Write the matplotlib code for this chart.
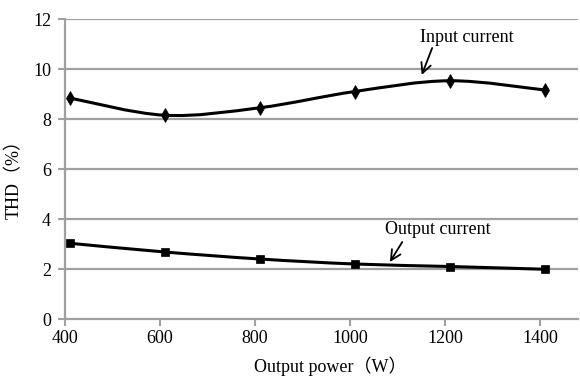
import matplotlib
matplotlib.use("Agg")
import matplotlib.pyplot as plt
from matplotlib.path import Path
from matplotlib.patches import PathPatch
import numpy as np

power = [410, 610, 810, 1010, 1210, 1410]
thd_input = [8.84, 8.15, 8.45, 9.1, 9.53, 9.16]
thd_output = [3.03, 2.68, 2.4, 2.2, 2.1, 1.99]
xticks = [400, 600, 800, 1000, 1200, 1400]
yticks = [0, 2, 4, 6, 8, 10, 12]

plt.rcParams['font.family'] = ['Liberation Serif', 'Noto Sans CJK SC', 'DejaVu Serif']

fig = plt.figure(figsize=(5.8, 3.81), dpi=100)
ax = fig.add_axes([65/580, 1-319/381, (578-65)/580, (319-19)/381])

grid_col = '#a0a0a0'
for y in yticks[1:]:
    ax.axhline(y, color=grid_col, lw=1.6, zorder=1)


def smooth_path(xs, ys):
    pts = np.column_stack([xs, ys]).astype(float)
    n = len(pts)
    verts = [pts[0]]
    codes = [Path.MOVETO]
    for i in range(n - 1):
        p0 = pts[i - 1] if i > 0 else pts[i]
        p1 = pts[i]
        p2 = pts[i + 1]
        p3 = pts[i + 2] if i + 2 < n else pts[i + 1]
        c1 = p1 + (p2 - p0) / 6.0
        c2 = p2 - (p3 - p1) / 6.0
        verts += [c1, c2, p2]
        codes += [Path.CURVE4] * 3
    return Path(verts, codes)


for ys, mk, ms in [(thd_input, 'd', 7.0), (thd_output, 's', 5.5)]:
    patch = PathPatch(smooth_path(power, ys), facecolor='none', edgecolor='black',
                      lw=2.2, zorder=3, capstyle='round', joinstyle='round')
    ax.add_patch(patch)
    ax.plot(power, ys, linestyle='none', marker=mk, ms=ms, mew=0.5,
            color='black', zorder=4)

ax.set_xlim(400, 1480)
ax.set_ylim(0, 12)
ax.set_xticks(xticks)
ax.set_yticks(yticks)
ax.tick_params(axis='x', direction='out', length=5, width=1.5, color=grid_col,
               labelsize=13, pad=3)
ax.tick_params(axis='y', direction='out', length=5, width=1.5, color=grid_col,
               labelsize=13, pad=5)
for s in ['top', 'right']:
    ax.spines[s].set_visible(False)
for s in ['left', 'bottom']:
    ax.spines[s].set_color(grid_col)
    ax.spines[s].set_linewidth(1.6)

ax.set_xlabel('Output power（W）', fontsize=13)
ax.set_ylabel('THD（%）', fontsize=13)
ax.xaxis.set_label_coords(0.517, -0.125)
ax.yaxis.set_label_coords(-0.082, 0.48)

ax.text(1246, 11.28, 'Input current', ha='center', va='center', fontsize=13)
ax.text(1185, 3.56, 'Output current', ha='center', va='center', fontsize=13)

arrow_style = dict(arrowstyle='->,head_length=0.6,head_width=0.3', color='black',
                   lw=1.3, shrinkA=0, shrinkB=0, mutation_scale=12)
ax.annotate('', xy=(1151, 9.76), xytext=(1173, 10.84), arrowprops=arrow_style)
ax.annotate('', xy=(1084, 2.28), xytext=(1110, 3.08), arrowprops=arrow_style)

fig.savefig('out.png', dpi=100)
